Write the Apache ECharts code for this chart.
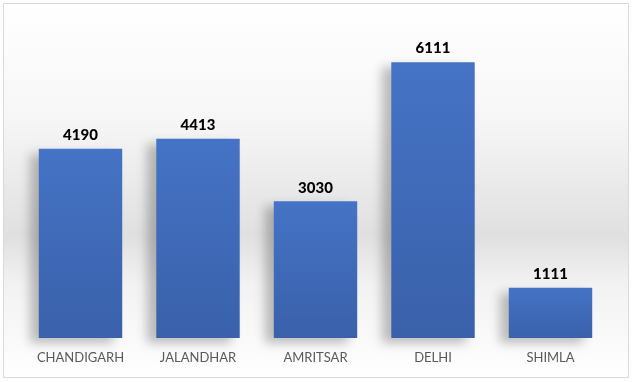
<!DOCTYPE html>
<html><head><meta charset="utf-8">
<script src="https://cdn.jsdelivr.net/npm/echarts@6/dist/echarts.min.js"></script>
<style>html,body{margin:0;padding:0;background:#fff}#c{width:633px;height:382px}</style>
</head><body><div id="c"></div>
<script>
const categories = ['CHANDIGARH', 'JALANDHAR', 'AMRITSAR', 'DELHI', 'SHIMLA'];
const values = [4190, 4413, 3030, 6111, 1111];

const chart = echarts.init(document.getElementById('c'), null, {renderer: 'canvas'});
chart.setOption({
  animation: false,
  graphic: [{
    type: 'rect', z: -10, silent: true,
    shape: {x: 3.5, y: 3.5, width: 625, height: 374},
    style: {
      fill: new echarts.graphic.LinearGradient(0, 0, 0, 1, [
        {offset: 0, color: '#ffffff'},
        {offset: 0.3, color: '#f7f7f7'},
        {offset: 0.62, color: '#e0e0e0'},
        {offset: 0.75, color: '#f2f2f2'},
        {offset: 1, color: '#ffffff'}
      ]),
      stroke: '#d9d9d9', lineWidth: 1
    }
  }],
  grid: {left: 21.75, right: 23.75, top: 22, bottom: 44, containLabel: false},
  xAxis: {
    type: 'category', data: categories,
    axisLine: {show: false}, axisTick: {show: false},
    axisLabel: {color: '#595959', fontFamily: 'Lato', fontSize: 13, margin: 13, interval: 0, hideOverlap: false}
  },
  yAxis: {type: 'value', min: 0, max: 7000, show: false, splitLine: {show: false}},
  series: [{
    type: 'bar', data: values, barCategoryGap: '29%',
    itemStyle: {
      color: new echarts.graphic.LinearGradient(0, 0, 0, 1, [
        {offset: 0, color: '#4573c5'},
        {offset: 1, color: '#3a61aa'}
      ]),
      shadowColor: 'rgba(0,0,0,0.25)', shadowBlur: 10, shadowOffsetX: -9, shadowOffsetY: 5
    },
    label: {show: true, position: 'top', distance: 6, color: '#000', fontFamily: 'Lato', fontWeight: 900, fontSize: 15}
  }]
});
</script></body></html>
